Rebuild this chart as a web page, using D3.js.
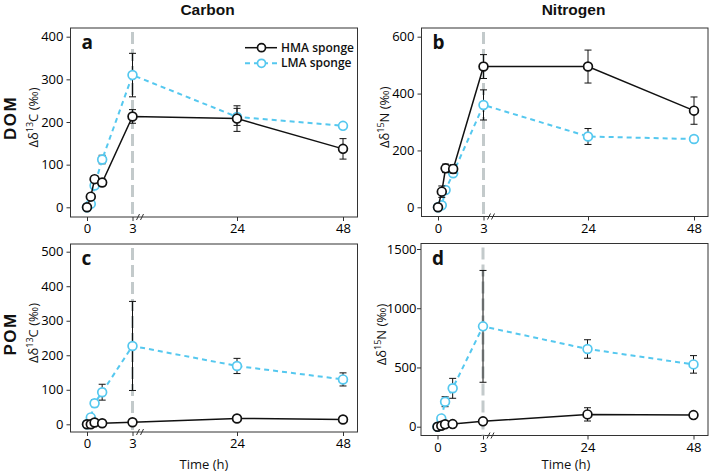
<!DOCTYPE html>
<html>
<head>
<meta charset="utf-8">
<script src="https://cdn.jsdelivr.net/npm/d3@7"></script>
<style>
  body { margin: 0; background: #fff; }
  svg { display: block; font-family: "Open Sans", sans-serif; }
</style>
</head>
<body>
<div id="chart"></div>
<script>
// sampling times (h)
var times = [0, 0.25, 0.5, 1, 3, 24, 48];
var xTicks = [0, 3, 24, 48];
var columnTitles = ["Carbon", "Nitrogen"];
var rowTitles = ["DOM", "POM"];
var panelLetters = ["a", "b", "c", "d"];
var isotopes = ["13C", "15N", "13C", "15N"];
var seriesNames = ["HMA sponge", "LMA sponge"];

// y ticks per panel
var yTicksA = [0, 100, 200, 300, 400];
var yTicksB = [0, 200, 400, 600];
var yTicksC = [0, 100, 200, 300, 400, 500];
var yTicksD = [0, 500, 1000, 1500];

// a: DOM carbon
var domC_hma = [0, 25, 66, 58, 213, 208, 137];
var domC_hmaErr = [0, 6, 8, 8, 16, 30, 24];
var domC_lma = [0, 8, 51, 112, 310, 212, 191];
var domC_lmaErr = [0, 3, 5, 10, 51, 20, 5];
// b: DOM nitrogen
var domN_hma = [0, 55, 137, 135, 495, 495, 340];
var domN_hmaErr = [0, 20, 15, 15, 42, 58, 48];
var domN_lma = [0, 7, 61, 120, 360, 249, 240];
var domN_lmaErr = [0, 3, 8, 10, 53, 28, 6];
// c: POM carbon
var pomC_hma = [0, 0, 5, 3, 6, 17, 14];
var pomC_hmaErr = [0, 1, 2, 2, 3, 4, 3];
var pomC_lma = [0, 20, 61, 93, 227, 169, 130];
var pomC_lmaErr = [0, 5, 10, 23, 129, 22, 19];
// d: POM nitrogen
var pomN_hma = [0, 8, 20, 22, 45, 104, 98];
var pomN_hmaErr = [0, 3, 5, 5, 10, 56, 10];
var pomN_lma = [0, 70, 211, 324, 847, 656, 526];
var pomN_lmaErr = [0, 15, 42, 84, 472, 78, 74];

var W = 709, H = 473;
var black = "#111";
var cyan = "#55c8ef";

var svg = d3.select("#chart").append("svg")
  .attr("width", W).attr("height", H);

// panel boxes (pixels) and where 0 / top tick land
var panels = [
  {l: 70.5, r: 357.5, t: 28, b: 217, y0: 207.3, y1: 36.7, ticks: yTicksA, pad: 3, tx: 204,
   hma: domC_hma, hmaErr: domC_hmaErr, lma: domC_lma, lmaErr: domC_lmaErr},
  {l: 421.5, r: 708, t: 28, b: 216.5, y0: 207.3, y1: 36.7, ticks: yTicksB, pad: 3, tx: 566,
   hma: domN_hma, hmaErr: domN_hmaErr, lma: domN_lma, lmaErr: domN_lmaErr},
  {l: 70.5, r: 357.5, t: 244, b: 432, y0: 424.3, y1: 251.7, ticks: yTicksC, pad: 3, tx: 204,
   hma: pomC_hma, hmaErr: pomC_hmaErr, lma: pomC_lma, lmaErr: pomC_lmaErr},
  {l: 421, r: 708, t: 243.5, b: 435.5, y0: 426.7, y1: 249, ticks: yTicksD, pad: 0.5, tx: 566,
   hma: pomN_hma, hmaErr: pomN_hmaErr, lma: pomN_lma, lmaErr: pomN_lmaErr}
];

panels.forEach(function(p, pi) {
  var g = svg.append("g");
  // broken time axis: 0-3 stretched, 3-48 compressed
  var x = d3.scaleLinear()
    .domain([0, 3, 24, 48])
    .range([p.l + 16.5, p.l + 62, p.l + 166.5, p.l + 272.5]);
  var y = d3.scaleLinear()
    .domain([0, p.ticks[p.ticks.length - 1]])
    .range([p.y0, p.y1]);

  // frame
  g.append("rect")
    .attr("x", p.l).attr("y", p.t)
    .attr("width", p.r - p.l).attr("height", p.b - p.t)
    .attr("fill", "none").attr("stroke", "#333").attr("stroke-width", 1);

  // dashed line at the break
  g.append("line")
    .attr("x1", x(3)).attr("x2", x(3))
    .attr("y1", p.t + 4).attr("y2", p.b)
    .attr("stroke", "#c3cacb").attr("stroke-width", 3)
    .attr("stroke-dasharray", "12,5");

  // axes
  var xAxis = g.append("g")
    .attr("transform", "translate(0," + p.b + ")")
    .call(d3.axisBottom(x).tickValues(xTicks).tickSizeOuter(0).tickSize(4).tickPadding(3));
  xAxis.select(".domain").remove();
  xAxis.selectAll("line").attr("stroke", "#333");
  xAxis.selectAll("text").attr("font-size", "13px").attr("fill", "#000")
    .attr("font-family", "Open Sans");

  var yAxis = g.append("g")
    .attr("transform", "translate(" + p.l + ",0)")
    .call(d3.axisLeft(y).tickValues(p.ticks).tickFormat(d3.format("d"))
      .tickSizeOuter(0).tickSize(4).tickPadding(p.pad));
  yAxis.select(".domain").remove();
  yAxis.selectAll("line").attr("stroke", "#333");
  yAxis.selectAll("text").attr("font-size", "13px").attr("fill", "#000")
    .attr("font-family", "Open Sans");

  // axis break marks
  [0, 4].forEach(function(off) {
    g.append("line")
      .attr("x1", x(3) + 4 + off).attr("y1", p.b + 3)
      .attr("x2", x(3) + 7 + off).attr("y2", p.b - 3)
      .attr("stroke", "#333").attr("stroke-width", 1);
  });

  // panel letter
  g.append("text")
    .attr("x", p.l + 11).attr("y", p.t + 21)
    .attr("font-size", "19px").attr("font-weight", "bold")
    .attr("fill", "#111").text(panelLetters[pi]);

  // y title
  var iso = isotopes[pi];
  var yt = g.append("text")
    .attr("transform", "translate(" + (p.l - (pi == 3 ? 35 : 32.5)) + "," + ((p.t + p.b) / 2 - 5) + ") rotate(-90)")
    .attr("text-anchor", "middle")
    .attr("font-size", "13px").attr("fill", "#111");
  yt.append("tspan").text("Δδ");
  yt.append("tspan").attr("font-size", "9px").attr("dy", -5).text(iso.slice(0, 2));
  yt.append("tspan").attr("dy", 5).text(iso.slice(2) + " (‰)");

  // series: LMA first, HMA on top
  var series = [
    {v: p.lma, e: p.lmaErr, color: cyan, dash: "5,4", w: 2},
    {v: p.hma, e: p.hmaErr, color: black, dash: null, w: 1.5}
  ];
  var line = d3.line()
    .x(function(d, i) { return x(times[i]); })
    .y(function(d) { return y(d); });

  series.forEach(function(s) {
    var sg = g.append("g");
    // error bars
    s.v.forEach(function(v, i) {
      if (!s.e[i]) return;
      var cx = x(times[i]);
      sg.append("line")
        .attr("x1", cx).attr("x2", cx)
        .attr("y1", y(v - s.e[i])).attr("y2", y(v + s.e[i]))
        .attr("stroke", black).attr("stroke-width", 1);
      [v - s.e[i], v + s.e[i]].forEach(function(c) {
        sg.append("line")
          .attr("x1", cx - 3.5).attr("x2", cx + 3.5)
          .attr("y1", y(c)).attr("y2", y(c))
          .attr("stroke", black).attr("stroke-width", 1);
      });
    });
    sg.append("path")
      .datum(s.v)
      .attr("d", line)
      .attr("fill", "none")
      .attr("stroke", s.color).attr("stroke-width", s.w)
      .attr("stroke-dasharray", s.dash);
    sg.selectAll("circle")
      .data(s.v)
      .enter()
      .append("circle")
      .attr("cx", function(d, i) { return x(times[i]); })
      .attr("cy", function(d) { return y(d); })
      .attr("r", 4.4)
      .attr("fill", "#fff")
      .attr("stroke", s.color).attr("stroke-width", 1.7);
  });

  // x title on bottom row
  if (pi >= 2) {
    g.append("text")
      .attr("x", p.tx).attr("y", 469)
      .attr("text-anchor", "middle")
      .attr("font-size", "13px").attr("fill", "#111")
      .text("Time (h)");
  }
});

// column titles
columnTitles.forEach(function(t, i) {
  svg.append("text")
    .attr("x", i == 0 ? 207.5 : 573.5).attr("y", 15)
    .attr("text-anchor", "middle")
    .attr("font-family", "Liberation Sans")
    .attr("font-size", "15.5px").attr("font-weight", "bold").attr("fill", "#111")
    .text(t);
});

// row titles
rowTitles.forEach(function(t, i) {
  svg.append("text")
    .attr("transform", "translate(15.5," + (i == 0 ? 118 : 334) + ") rotate(-90)")
    .attr("text-anchor", "middle")
    .attr("font-family", "Liberation Sans")
    .attr("font-size", "17px").attr("font-weight", "bold").attr("fill", "#111")
    .attr("letter-spacing", "1.5px")
    .text(t);
});

// legend in panel a
var lg = svg.append("g");
seriesNames.forEach(function(n, i) {
  var ly = 47.7 + i * 15.6;
  lg.append("line")
    .attr("x1", 245).attr("x2", 277).attr("y1", ly).attr("y2", ly)
    .attr("stroke", i == 0 ? black : cyan).attr("stroke-width", i == 0 ? 1.5 : 2)
    .attr("stroke-dasharray", i == 0 ? null : "5,4");
  lg.append("circle")
    .attr("cx", 261.5).attr("cy", ly).attr("r", 4)
    .attr("fill", "#fff").attr("stroke", i == 0 ? black : cyan).attr("stroke-width", 1.7);
  lg.append("text")
    .attr("x", 281).attr("y", ly + 4)
    .attr("font-size", "12px").attr("font-weight", "600").attr("fill", "#111")
    .text(n);
});
</script>
</body>
</html>
